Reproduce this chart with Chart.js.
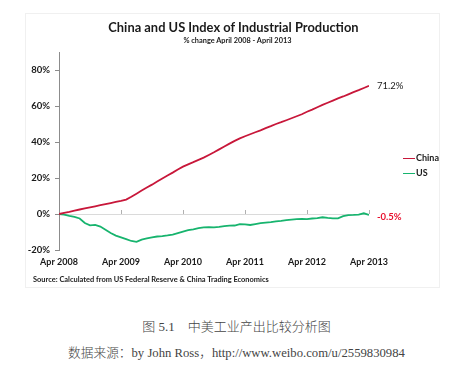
<!DOCTYPE html>
<html>
<head>
<meta charset="utf-8">
<script src="https://cdn.jsdelivr.net/npm/chart.js@4"></script>
<style>
  html,body{margin:0;padding:0;background:#fff;}
  #wrap{position:relative;width:473px;height:367px;overflow:hidden;background:#fff;}
  #frame{position:absolute;left:25px;top:13px;width:415px;height:275px;border:1px solid #f0f0f0;box-sizing:border-box;}
  #c{position:absolute;left:0;top:0;}
  .t{position:absolute;white-space:nowrap;font-family:Lato,"Open Sans",sans-serif;font-weight:bold;color:#1a1a1a;}
  #title{left:0;width:467px;text-align:center;top:18px;font-size:14px;transform:scaleX(0.92);transform-origin:233px 0;}
  #sub{left:0;width:475px;text-align:center;top:35px;font-size:8px;transform:scaleX(0.92);transform-origin:237px 0;}
  #src{left:33px;top:274px;font-size:8px;transform:scaleX(0.93);transform-origin:0 0;}
  .leg{position:absolute;left:403px;font-family:Lato,sans-serif;font-weight:bold;font-size:9px;color:#1a1a1a;white-space:nowrap;}
  .leg span{display:inline-block;width:12px;height:0;border-top:1.5px solid;vertical-align:middle;margin-right:1px;}
  #cap1{position:absolute;left:0;width:473px;text-align:center;top:316px;font-family:"Liberation Serif","Noto Sans CJK SC",serif;font-size:13px;font-weight:300;color:#444;}
  #cap2{position:absolute;left:0;width:473px;text-align:center;top:342px;font-family:"Liberation Serif","Noto Sans CJK SC",serif;font-size:12.7px;font-weight:300;color:#444;}
</style>
</head>
<body>
<div id="wrap">
  <div id="frame"></div>
  <canvas id="c" width="473" height="295"></canvas>
  <div class="t" id="title">China and US Index of Industrial Production</div>
  <div class="t" id="sub">% change April 2008 - April 2013</div>
  <div class="t" id="src">Source: Calculated from US Federal Reserve &amp; China Trading Economics</div>
  <div class="leg" style="top:152px"><span style="border-color:#C8173A"></span>China</div>
  <div class="leg" style="top:167px"><span style="border-color:#17B46E"></span>US</div>
  <div id="cap1">图 5.1&nbsp;&nbsp;&nbsp;&nbsp;中美工业产出比较分析图</div>
  <div id="cap2">数据来源：by John Ross，http://www.weibo.com/u/2559830984</div>
</div>
<script>
// Months since Apr 2008 are the x positions (index of each value)
const xTickLabels = ["Apr 2008","Apr 2009","Apr 2010","Apr 2011","Apr 2012","Apr 2013"];
const seriesNames = ["China","US"];
const chinaValues = [0,0.6,1.2,1.9,2.5,3.1,3.7,4.3,4.9,5.5,6.1,6.7,7.3,8.0,9.6,11.3,13.0,14.7,16.3,18.0,19.7,21.4,23.0,24.7,26.3,27.6,28.8,30.1,31.3,32.8,34.3,35.9,37.5,39.1,40.6,42.0,43.2,44.3,45.4,46.5,47.7,48.8,50.0,51.0,52.1,53.2,54.3,55.4,56.8,58.0,59.3,60.6,61.8,63.0,64.2,65.3,66.5,67.7,68.8,70.0,71.2];
const usValues = [0,-0.3,-1.0,-1.6,-2.5,-5.0,-6.3,-6.0,-7.0,-8.8,-10.6,-12.0,-13.0,-14.0,-15.0,-15.5,-14.2,-13.6,-13.0,-12.5,-12.3,-11.9,-11.4,-10.6,-9.8,-9.0,-8.5,-7.8,-7.4,-7.3,-7.4,-7.2,-6.7,-6.5,-6.4,-5.6,-5.8,-6.1,-5.6,-5.1,-4.8,-4.5,-4.1,-3.8,-3.4,-3.1,-2.8,-2.7,-2.8,-2.5,-2.3,-1.8,-2.2,-2.4,-2.4,-1.2,-0.6,-0.5,-0.3,0.4,-0.5];
const endLabels = ["71.2%","-0.5%"];
const yTickValues = [-20,0,20,40,60,80];

const FONT = 'Lato, sans-serif';
const colors = ["#C8173A","#17B46E"];
const labelColors = ["#1a1a1a","#E8102E"];

function pts(arr){ return arr.map((v,i)=>({x:i,y:v})); }

const zeroTicks = {
  id:'zeroTicks',
  beforeDatasetsDraw(chart){
    const ctx=chart.ctx, xs=chart.scales.x, ys=chart.scales.y;
    const y0=ys.getPixelForValue(0);
    ctx.save(); ctx.strokeStyle='#b0b0b0'; ctx.lineWidth=1;
    xs.ticks.forEach(t=>{ if(t.value===0) return;
      const x=Math.round(xs.getPixelForValue(t.value))+0.5;
      ctx.beginPath(); ctx.moveTo(x,y0-4); ctx.lineTo(x,y0); ctx.stroke(); });
    ctx.restore();
  }
};
const endLabelPlugin = {
  id:'endLabels',
  afterDatasetsDraw(chart){
    const ctx=chart.ctx;
    chart.data.datasets.forEach((ds,i)=>{
      const meta=chart.getDatasetMeta(i); const el=meta.data[meta.data.length-1];
      ctx.save();
      ctx.font=(i===1?'bold ':'')+'9.5px '+FONT;
      ctx.fillStyle=labelColors[i]; ctx.textBaseline='middle'; ctx.textAlign='left';
      ctx.fillText(endLabels[i], el.x+8, el.y+(i===1?2:0));
      ctx.restore();
    });
  }
};

new Chart(document.getElementById('c'),{
  type:'line',
  data:{datasets:[
    {label:seriesNames[0],data:pts(chinaValues),borderColor:colors[0],borderWidth:1.8,pointRadius:0,tension:0},
    {label:seriesNames[1],data:pts(usValues),borderColor:colors[1],borderWidth:1.8,pointRadius:0,tension:0}
  ]},
  options:{
    responsive:false,animation:false,devicePixelRatio:1,
    layout:{padding:{top:52,right:104,bottom:0,left:0}},
    plugins:{legend:{display:false},tooltip:{enabled:false},title:{display:false}},
    scales:{
      x:{type:'linear',min:0,max:60,
        afterFit(s){s.height=45;},
        afterBuildTicks(s){s.ticks=xTickLabels.map((l,i)=>({value:i*12}));},
        grid:{display:false,drawTicks:false},border:{display:false},
        ticks:{padding:7,maxRotation:0,autoSkip:false,color:'#1a1a1a',font:{family:FONT,size:9,weight:'bold'},
          callback:(v)=>xTickLabels[Math.round(v/12)]}
      },
      y:{type:'linear',min:-20,max:90,
        afterFit(s){s.width=59;},
        afterBuildTicks(s){s.ticks=yTickValues.map(v=>({value:v}));},
        border:{display:true,color:'#8c8c8c',width:1},
        grid:{drawTicks:true,tickLength:4,tickColor:'#8c8c8c',lineWidth:1,
          color:(c)=>(c.tick && c.tick.value===0)?'#dadada':'rgba(0,0,0,0)'},
        ticks:{padding:5,color:'#1a1a1a',font:{family:FONT,size:9.5,weight:'bold'},
          callback:(v)=>v+'%'}
      }
    }
  },
  plugins:[zeroTicks,endLabelPlugin]
});
</script>
</body>
</html>
